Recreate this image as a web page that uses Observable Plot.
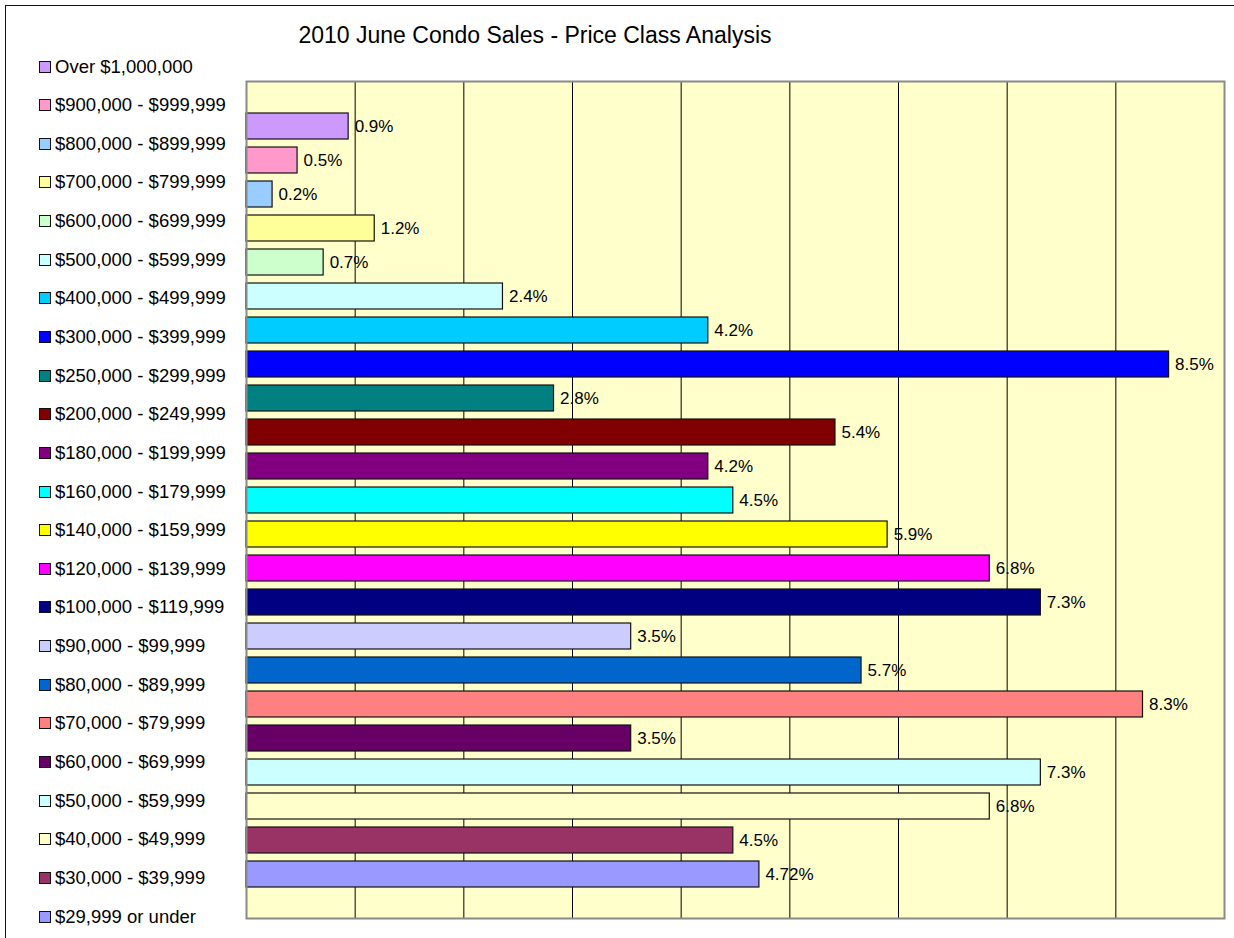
<!DOCTYPE html>
<html>
<head>
<meta charset="utf-8">
<script src="https://cdn.jsdelivr.net/npm/d3@7"></script>
<script src="https://cdn.jsdelivr.net/npm/@observablehq/plot@0.6"></script>
<style>
  body { margin: 0; background: #fff; font-family: "Liberation Sans", Arial, sans-serif; }
  #wrap { position: relative; width: 1234px; height: 938px; overflow: hidden; background: #fff; }
  #frame { position: absolute; left: 5px; top: 5px; width: 1260px; height: 960px; border-top: 1px solid #111; border-left: 1px solid #111; }
  #title { position: absolute; left: 0; width: 1070px; top: 22px; text-align: center; font-size: 23px; line-height: 26px; color: #000; }
  #chart { position: absolute; left: 0; top: 0; }
  .lg { position: absolute; left: 39px; height: 22px; display: flex; align-items: center; font-size: 18.5px; white-space: nowrap; color: #000; }
  .sw { width: 10px; height: 10px; border: 1px solid #111; margin-right: 4px; flex: none; }
</style>
</head>
<body>
<div id="wrap">
  <div id="frame"></div>
  <div id="chart"></div>
  <div id="title"></div>
</div>
<script>
const titleText = "2010 June Condo Sales - Price Class Analysis";

const categories = [
  "Over $1,000,000", "$900,000 - $999,999", "$800,000 - $899,999", "$700,000 - $799,999",
  "$600,000 - $699,999", "$500,000 - $599,999", "$400,000 - $499,999", "$300,000 - $399,999",
  "$250,000 - $299,999", "$200,000 - $249,999", "$180,000 - $199,999", "$160,000 - $179,999",
  "$140,000 - $159,999", "$120,000 - $139,999", "$100,000 - $119,999", "$90,000 - $99,999",
  "$80,000 - $89,999", "$70,000 - $79,999", "$60,000 - $69,999", "$50,000 - $59,999",
  "$40,000 - $49,999", "$30,000 - $39,999", "$29,999 or under"
];

const shares = [
  0.94, 0.47, 0.24, 1.18, 0.71, 2.36, 4.25, 8.49, 2.83, 5.42, 4.25, 4.48,
  5.90, 6.84, 7.31, 3.54, 5.66, 8.25, 3.54, 7.31, 6.84, 4.48, 4.72
];

const shareLabels = [
  "0.9%", "0.5%", "0.2%", "1.2%", "0.7%", "2.4%", "4.2%", "8.5%", "2.8%", "5.4%", "4.2%", "4.5%",
  "5.9%", "6.8%", "7.3%", "3.5%", "5.7%", "8.3%", "3.5%", "7.3%", "6.8%", "4.5%", "4.72%"
];

const colors = [
  "#CC99FF", "#FF99CC", "#99CCFF", "#FFFF99", "#CCFFCC", "#CCFFFF", "#00CCFF", "#0000FF",
  "#008080", "#800000", "#800080", "#00FFFF", "#FFFF00", "#FF00FF", "#000080", "#CCCCFF",
  "#0066CC", "#FF8080", "#660066", "#CCFFFF", "#FFFFCC", "#993366", "#9999FF"
];

const gridTicks = [1, 2, 3, 4, 5, 6, 7, 8];

const rows = categories.map((c, i) => ({category: c, value: shares[i], label: shareLabels[i], color: colors[i]}));

document.getElementById("title").textContent = titleText;

const chart = Plot.plot({
  width: 1234,
  height: 938,
  marginLeft: 246,
  marginRight: 10,
  marginTop: 81,
  marginBottom: 20,
  x: {domain: [0, 9], axis: null},
  y: {domain: categories, axis: null, paddingInner: 0.242, paddingOuter: 0.586, align: 0.5},
  color: {type: "identity"},
  style: {fontFamily: "'Liberation Sans', Arial, sans-serif", background: "transparent", overflow: "visible"},
  marks: [
    Plot.frame({fill: "#FFFFCC", stroke: null}),
    Plot.ruleX(gridTicks, {stroke: "#000", strokeWidth: 1}),
    Plot.barX(rows, {x: "value", y: "category", fill: "color", stroke: "#111", strokeWidth: 1.2}),
    Plot.text(rows, {x: "value", y: "category", text: "label", dx: 6, textAnchor: "start", fontSize: 17, fill: "#000"}),
    Plot.frame({stroke: "#8a8a8a", strokeWidth: 2})
  ]
});
document.getElementById("chart").appendChild(chart);

const wrap = document.getElementById("wrap");
categories.forEach((c, i) => {
  const item = document.createElement("div");
  item.className = "lg";
  item.style.top = (66.5 + i * 38.64 - 11) + "px";
  const sw = document.createElement("div");
  sw.className = "sw";
  sw.style.background = colors[i];
  const tx = document.createElement("span");
  tx.textContent = c;
  item.appendChild(sw);
  item.appendChild(tx);
  wrap.appendChild(item);
});
</script>
</body>
</html>
